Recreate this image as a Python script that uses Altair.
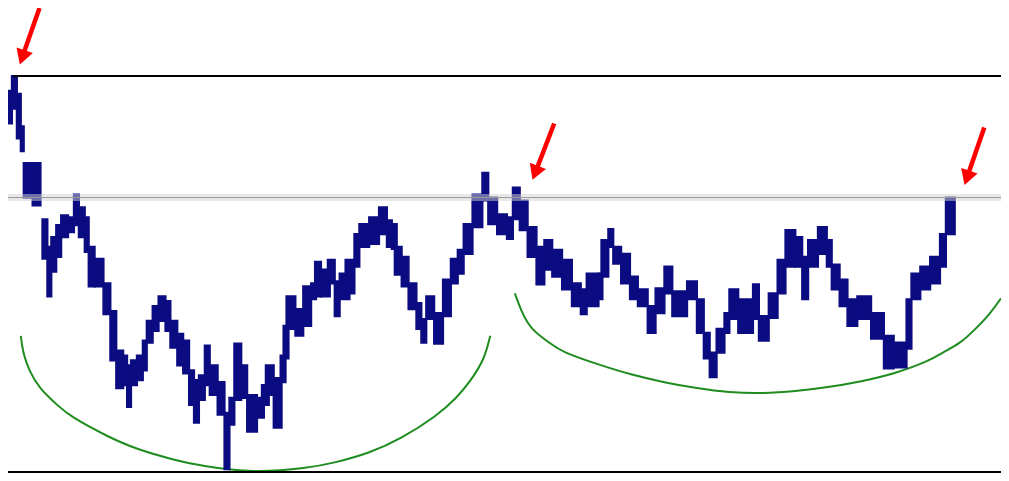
import altair as alt
import pandas as pd

# ---- price blocks (time units, index units) ----
t_start = [0, 4, 9, 13, 16, 25, 35, 40, 44, 49,
           54, 61, 67, 72, 78, 82, 88, 97, 104, 110,
           117, 121, 125, 131, 137, 141, 147, 153, 160, 165,
           172, 178, 184, 189, 194, 200, 205, 213, 220, 225,
           230, 237, 243, 253, 258, 262, 270, 277, 280, 283,
           292, 300, 308, 312, 318, 325, 332, 337, 343, 352,
           357, 367, 377, 385, 390, 393, 400, 407, 415, 420,
           425, 433, 442, 450, 457, 463, 472, 482, 488, 497,
           507, 513, 520, 528, 537, 545, 553, 563, 573, 582,
           588, 600, 603, 610, 615, 623, 632, 640, 650, 658,
           667, 675, 690, 700, 707, 713, 720, 728, 733, 742,
           757, 763, 773, 782, 790, 800, 807, 813, 823, 832,
           837, 845, 853, 863, 877, 890, 900, 913, 918, 927,
           937, 947, 953]
t_end = [4, 9, 13, 16, 25, 33, 40, 44, 49, 54,
         61, 67, 72, 78, 82, 88, 97, 104, 110, 117,
         121, 125, 131, 137, 141, 147, 153, 160, 165, 172,
         178, 184, 189, 194, 200, 205, 213, 220, 225, 230,
         237, 243, 253, 260, 265, 270, 278, 282, 285, 292,
         300, 308, 313, 318, 327, 332, 337, 347, 352, 357,
         367, 377, 385, 390, 395, 400, 407, 415, 420, 425,
         433, 442, 450, 457, 463, 472, 482, 488, 497, 507,
         513, 520, 528, 537, 545, 553, 563, 573, 582, 588,
         600, 604, 610, 615, 623, 632, 640, 650, 658, 667,
         675, 690, 700, 707, 713, 720, 728, 733, 742, 757,
         763, 773, 782, 790, 800, 807, 813, 823, 832, 837,
         845, 853, 863, 877, 890, 900, 913, 918, 927, 937,
         947, 953, 962]
high = [408, 423, 405, 372, 335, 335, 278, 250, 260, 272,
        282, 280, 303, 290, 280, 250, 238, 213, 185, 145,
        140, 130, 135, 140, 155, 175, 190, 200, 195, 175,
        162, 155, 125, 115, 120, 150, 130, 113, 82, 97,
        152, 130, 100, 97, 110, 130, 117, 140, 170, 200,
        187, 210, 213, 235, 227, 237, 215, 223, 237, 263,
        273, 280, 290, 277, 273, 250, 240, 213, 193, 177,
        200, 183, 217, 238, 247, 273, 303, 325, 300, 283,
        280, 310, 297, 270, 250, 257, 247, 237, 213, 207,
        223, 223, 257, 268, 250, 243, 220, 207, 190, 208,
        230, 205, 215, 197, 163, 143, 167, 183, 207, 197,
        212, 180, 203, 237, 267, 260, 240, 257, 270, 257,
        232, 217, 197, 200, 183, 160, 153, 197, 223, 230,
        240, 263, 300]
low = [375, 390, 360, 347, 300, 292, 238, 200, 225, 240,
       260, 265, 272, 260, 245, 210, 210, 182, 135, 107,
       110, 88, 110, 115, 125, 153, 165, 175, 165, 148,
       130, 122, 90, 72, 95, 110, 100, 80, 25, 70,
       95, 97, 63, 77, 90, 100, 67, 113, 137, 167,
       160, 170, 197, 200, 200, 213, 180, 197, 203, 230,
       250, 253, 263, 250, 248, 222, 210, 187, 167, 153,
       177, 152, 180, 213, 223, 243, 270, 297, 273, 263,
       258, 278, 267, 240, 212, 227, 220, 207, 190, 182,
       190, 197, 220, 250, 233, 213, 197, 190, 163, 183,
       203, 180, 197, 163, 137, 118, 143, 163, 177, 163,
       177, 155, 178, 203, 230, 230, 197, 230, 243, 230,
       207, 190, 170, 177, 157, 127, 128, 147, 197, 207,
       213, 230, 263]

# ---- horizontal levels ----
top_level = 423
resistance_level = 300
bottom_level = 22

# ---- cup arcs ----
arc1_t = [13, 16, 22, 33, 50, 67, 100, 133, 167, 200, 250, 300, 333, 367, 400, 433, 455, 470, 483, 490]
arc1_v = [160, 142, 125, 107, 90, 77, 59, 45, 35, 28, 23, 26, 32, 42, 57, 78, 97, 115, 137, 160]
arc2_t = [515, 522, 533, 550, 567, 600, 633, 667, 700, 733, 767, 800, 833, 867, 900, 933, 950, 967, 983, 997, 1009]
arc2_v = [203, 185, 167, 153, 143, 131, 121, 113, 107, 103, 102, 104, 108, 114, 122, 134, 143, 153, 167, 182, 198]

# ---- arrows (tail, head centre, rotation) ----
arrow_tail_t = [32, 555, 992]
arrow_tail_v = [492, 375, 371]
arrow_head_t = [14.5, 535.7, 974.4]
arrow_head_v = [442, 325, 320]
arrow_rot = [19, 21, 19]

xs = alt.Scale(domain=[0, 1009], nice=False, zero=False)
ys = alt.Scale(domain=[21, 492], nice=False, zero=False)

NAVY = "#0b0b82"

price = pd.DataFrame({"t0": t_start, "t1": t_end, "hi": high, "lo": low})
bars = alt.Chart(price).mark_rect(color=NAVY, stroke=NAVY, strokeWidth=2.2).encode(
    x=alt.X("t0:Q", scale=xs, axis=None),
    x2="t1:Q",
    y=alt.Y("lo:Q", scale=ys, axis=None),
    y2="hi:Q",
)

arcs = pd.DataFrame({
    "t": arc1_t + arc2_t,
    "v": arc1_v + arc2_v,
    "arc": ["a"] * len(arc1_t) + ["b"] * len(arc2_t),
})
arc_lines = alt.Chart(arcs).mark_line(color="#1e8c1e", strokeWidth=2, interpolate="natural").encode(
    x=alt.X("t:Q", scale=xs, axis=None),
    y=alt.Y("v:Q", scale=ys, axis=None),
    detail="arc:N",
)

top_df = pd.DataFrame({"a": [5], "b": [1009], "v": [top_level]})
bot_df = pd.DataFrame({"a": [0], "b": [1009], "v": [bottom_level]})
res_df = pd.DataFrame({"a": [0], "b": [1009], "v": [resistance_level]})

top_rule = alt.Chart(top_df).mark_rule(color="black", strokeWidth=2).encode(
    x=alt.X("a:Q", scale=xs, axis=None), x2="b:Q", y=alt.Y("v:Q", scale=ys, axis=None))
bot_rule = alt.Chart(bot_df).mark_rule(color="black", strokeWidth=2).encode(
    x=alt.X("a:Q", scale=xs, axis=None), x2="b:Q", y=alt.Y("v:Q", scale=ys, axis=None))
res_band = alt.Chart(res_df).mark_rule(color="#d2d2d2", strokeWidth=7, opacity=0.5).encode(
    x=alt.X("a:Q", scale=xs, axis=None), x2="b:Q", y=alt.Y("v:Q", scale=ys, axis=None))
res_line = alt.Chart(res_df).mark_rule(color="#9a9a9a", strokeWidth=1).encode(
    x=alt.X("a:Q", scale=xs, axis=None), x2="b:Q", y=alt.Y("v:Q", scale=ys, axis=None))

arrows = pd.DataFrame({
    "t0": arrow_tail_t, "v0": arrow_tail_v,
    "t1": arrow_head_t, "v1": arrow_head_v, "rot": arrow_rot,
})
shafts = alt.Chart(arrows).mark_rule(color="#ff0000", strokeWidth=4.5).encode(
    x=alt.X("t0:Q", scale=xs, axis=None), x2="t1:Q",
    y=alt.Y("v0:Q", scale=ys, axis=None), y2="v1:Q")
heads = alt.Chart(arrows).mark_point(shape="triangle-down", filled=True, size=300,
                                     color="#ff0000", opacity=1).encode(
    x=alt.X("t1:Q", scale=xs, axis=None),
    y=alt.Y("v1:Q", scale=ys, axis=None),
    angle=alt.Angle("rot:Q", scale=None),
)

chart = alt.layer(arc_lines, bars, top_rule, bot_rule, res_band, res_line, shafts, heads).properties(
    width=993, height=465, padding=0,
    autosize=alt.AutoSizeParams(type="none"),
).configure_view(stroke=None)

chart.save("out.html", embed_options={"renderer": "svg", "actions": False})
